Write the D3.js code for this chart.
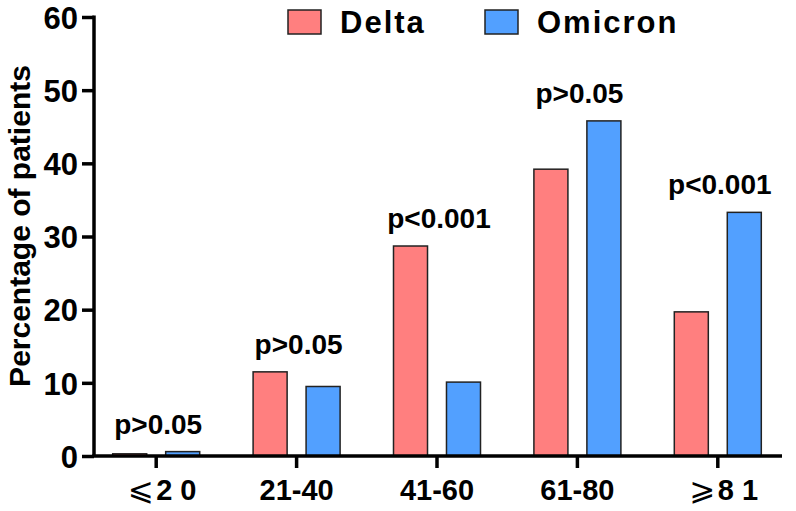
<!DOCTYPE html>
<html>
<head>
<meta charset="utf-8">
<script src="https://cdn.jsdelivr.net/npm/d3@7"></script>
<style>
  html, body { margin: 0; padding: 0; background: #fff; }
  text { font-family: "Liberation Sans", Arial, Helvetica, sans-serif; font-weight: bold; fill: #000; }
</style>
</head>
<body>
<svg id="chart" width="796" height="511"></svg>
<script>
const categories = ["≤20", "21-40", "41-60", "61-80", "≥81"];
const categoryLabels = [["⩽", "2 0"], ["", "21-40"], ["", "41-60"], ["", "61-80"], ["⩾", "8 1"]];
const seriesNames = ["Delta", "Omicron"];
const deltaValues = [0.3, 11.5, 28.7, 39.2, 19.7];
const omicronValues = [0.6, 9.5, 10.1, 45.8, 33.3];
const pLabels = ["p>0.05", "p>0.05", "p<0.001", "p>0.05", "p<0.001"];
const yTicks = [0, 10, 20, 30, 40, 50, 60];
const colors = ["#FF7F7F", "#52A0FF"];

const svg = d3.select("#chart");
const x = d3.scaleBand().domain(categories).range([86, 788]).padding(0);
const xInner = d3.scaleBand().domain(seriesNames).range([-43.5, 43.5]).paddingInner(0.358).paddingOuter(0);
const y = d3.scaleLinear().domain([0, 60]).range([456, 17]);
const seriesValues = [deltaValues, omicronValues];

// bars
seriesNames.forEach((s, si) => {
  svg.append("g").selectAll("rect")
    .data(categories.map((c, i) => ({ c, v: seriesValues[si][i] })))
    .join("rect")
    .attr("x", d => x(d.c) + x.bandwidth() / 2 + xInner(s))
    .attr("width", xInner.bandwidth())
    .attr("y", d => y(d.v))
    .attr("height", d => y(0) - y(d.v))
    .attr("fill", colors[si])
    .attr("stroke", "#222")
    .attr("stroke-width", 1.5);
});

// y axis
const yAxis = d3.axisLeft(y).tickValues(yTicks).tickSize(12).tickPadding(4).tickFormat(d3.format("d"));
const gy = svg.append("g").attr("transform", "translate(94,0)").call(yAxis);
gy.select(".domain").attr("stroke", "#000").attr("stroke-width", 3.5).attr("d", `M0,${y(60)-1.5}V${y(0)}`);
gy.selectAll(".tick line").attr("stroke", "#000").attr("stroke-width", 3.5);
gy.selectAll(".tick text").style("font-size", "31px").style("font-weight", "bold").attr("fill", "#000").attr("dy", "0.36em");

// x axis
const xAxis = d3.axisBottom(x).tickSize(12).tickFormat(() => "");
const gx = svg.append("g").attr("transform", `translate(0,${y(0)})`).call(xAxis);
gx.select(".domain").attr("stroke", "#000").attr("stroke-width", 3.5).attr("d", "M92.25,0H782");
gx.selectAll(".tick line").attr("stroke", "#000").attr("stroke-width", 3.5);

// x labels
const xl = svg.append("g").selectAll("text")
  .data(categories.map((c, i) => ({ c, lab: categoryLabels[i] })))
  .join("text")
  .attr("x", d => x(d.c) + x.bandwidth() / 2)
  .attr("y", 500)
  .attr("text-anchor", "middle")
  .style("font-size", "29px");
xl.each(function(d) {
  const t = d3.select(this);
  if (d.lab[0]) {
    t.append("tspan").text(d.lab[0]).style("font-weight", "normal").style("font-size", "31px")
      .style("font-family", "'DejaVu Sans', 'Noto Sans', sans-serif").attr("dx", 6);
    t.append("tspan").text(" ").style("font-size", "8px");
  }
  t.append("tspan").text(d.lab[1]);
});

// p labels
svg.append("g").selectAll("text")
  .data(categories.map((c, i) => ({ c, p: pLabels[i], m: Math.max(deltaValues[i], omicronValues[i]) })))
  .join("text")
  .attr("x", d => x(d.c) + x.bandwidth() / 2 + 2)
  .attr("y", d => y(d.m) - 18)
  .attr("text-anchor", "middle")
  .style("font-size", "28px")
  .text(d => d.p);

// y title
svg.append("text")
  .attr("transform", "translate(30,226) rotate(-90)")
  .attr("text-anchor", "middle")
  .style("font-size", "30px")
  .text("Percentage of patients");

// legend
const legendX = [288, 485];
seriesNames.forEach((s, i) => {
  svg.append("rect").attr("x", legendX[i]).attr("y", 10).attr("width", 33).attr("height", 24)
    .attr("fill", colors[i]).attr("stroke", "#222").attr("stroke-width", 1.5);
  svg.append("text").attr("x", legendX[i] + 52).attr("y", 33)
    .style("font-size", "31px").style("letter-spacing", "2px").text(s);
});
</script>
</body>
</html>
